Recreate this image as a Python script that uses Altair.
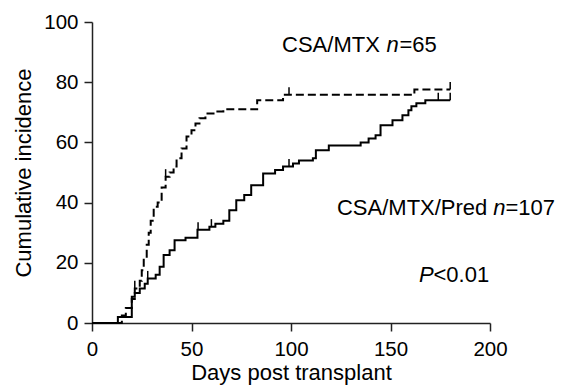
import altair as alt
import pandas as pd

# CSA/MTX (dashed)
dash_days = [0, 15, 17, 20, 21.5, 24, 25, 26, 27.5, 28.5, 29.5, 31, 33, 35, 37, 39, 41, 42.5,
             45, 47.5, 50, 52, 54, 57, 62, 66, 83, 96, 162, 180]
dash_vals = [0, 2.5, 5, 8, 11.5, 14, 17.5, 21.5, 26, 30, 34, 38.6, 40, 45, 48.6, 50, 52, 54.7,
             58, 62, 64, 66.3, 68, 69.6, 70.3, 71, 74, 75.8, 77.6, 77.6]
# CSA/MTX/Pred (solid)
solid_days = [0, 13, 20, 21.5, 24, 26.5, 28, 32, 34, 36, 39, 41.5, 47, 53, 59, 62, 66, 69, 72.5,
              76.5, 80, 86, 92, 96, 101, 104, 111, 112.5, 119, 135, 139, 142.5, 145, 151, 156,
              159, 160.5, 163, 167.5, 180]
solid_vals = [0, 2, 8.7, 10, 11.5, 13, 14.8, 16, 18.7, 22.6, 24.2, 27.5, 28.3, 31, 32, 33, 34,
              37.5, 40.8, 42.5, 45.8, 49.7, 50.8, 52, 53, 54, 54.7, 57.4, 59, 60, 61.3, 62.4,
              65.7, 67.4, 69, 70.7, 72, 73, 74, 74]
# censored observations
cens_dash_days = [21.5, 37, 99, 180]
cens_dash_vals = [11.5, 48.6, 75.8, 77.6]
cens_solid_days = [28, 53.3, 60, 99, 174, 180]
cens_solid_vals = [14.8, 31, 32, 52, 74, 74]

x_ticks = [0, 50, 100, 150, 200]
y_ticks = [0, 20, 40, 60, 80, 100]

# annotation pieces
ann_text = ["CSA/MTX ", "n", "=65", "CSA/MTX/Pred ", "n", "=107", "P", "<0.01"]
ann_x = [95.5, 148.0, 154.5, 123.1, 201.6, 207.8, 164.3, 171.6]
ann_y = [92.4, 92.4, 92.4, 38.2, 38.2, 38.2, 15.9, 15.9]
ann_italic = [False, True, False, False, True, False, True, False]

FONT = "Liberation Sans"

dash_df = pd.DataFrame({"day": dash_days, "val": dash_vals})
solid_df = pd.DataFrame({"day": solid_days, "val": solid_vals})
cens_df = pd.DataFrame({
    "day": cens_dash_days + cens_solid_days,
    "val": cens_dash_vals + cens_solid_vals,
})
cens_df["top"] = cens_df["val"] + 2.5
ann_df = pd.DataFrame({"x": ann_x, "y": ann_y, "text": ann_text, "italic": ann_italic})

xs = alt.Scale(domain=[0, 200], nice=False)
ys = alt.Scale(domain=[0, 100], nice=False)

xax = alt.Axis(values=x_ticks, title="Days post transplant", grid=False, labelFlush=False,
               labelPadding=8, titlePadding=3)
yax = alt.Axis(values=y_ticks, title="Cumulative incidence", grid=False, labelFlush=False,
               labelPadding=6, titlePadding=8)

base_x = alt.X("day:Q", scale=xs, axis=xax)
base_y = alt.Y("val:Q", scale=ys, axis=yax)

solid = alt.Chart(solid_df).mark_line(interpolate="step-after", color="black", strokeWidth=2).encode(
    x=base_x, y=base_y)
dashed = alt.Chart(dash_df).mark_line(interpolate="step-after", color="black", strokeWidth=2,
                                      strokeDash=[8, 4]).encode(x=base_x, y=base_y)
cens = alt.Chart(cens_df).mark_rule(color="black", strokeWidth=1.5).encode(
    x="day:Q", y="val:Q", y2="top:Q")

normal_txt = alt.Chart(ann_df).transform_filter("!datum.italic").mark_text(
    align="left", baseline="middle", font=FONT, fontSize=22, color="black").encode(
    x="x:Q", y="y:Q", text="text:N")
italic_txt = alt.Chart(ann_df).transform_filter("datum.italic").mark_text(
    align="left", baseline="middle", font=FONT, fontSize=22, fontStyle="italic", color="black").encode(
    x="x:Q", y="y:Q", text="text:N")

chart = alt.layer(solid, dashed, cens, normal_txt, italic_txt).properties(
    width=398, height=301,
    autosize=alt.AutoSizeParams(type="none"),
    padding={"left": 84, "top": 14, "right": 72, "bottom": 66},
).configure_view(stroke=None).configure_axis(
    labelFont=FONT, titleFont=FONT, labelFontSize=20.5, titleFontSize=22,
    titleFontWeight="normal", labelColor="black", titleColor="black",
    domainColor="#222", tickColor="#222", domainWidth=1.5, tickWidth=1.5, tickSize=8,
)

chart.save("out.html", embed_options={"renderer": "svg", "actions": False})
